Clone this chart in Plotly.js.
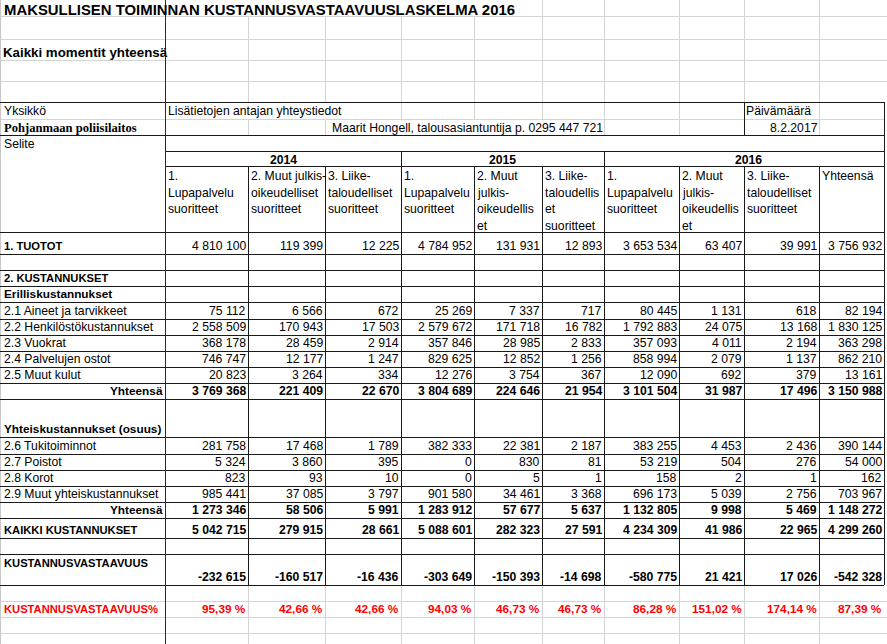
<!DOCTYPE html>
<html><head><meta charset="utf-8">
<script src="https://cdn.plot.ly/plotly-3.0.1.min.js"></script>
<style>html,body{margin:0;padding:0;background:#fff;overflow:hidden}</style>
</head><body><div id="chart" style="width:887px;height:644px"></div>
<script>
// ---------------- DATA ----------------
const title = "MAKSULLISEN TOIMINNAN KUSTANNUSVASTAAVUUSLASKELMA 2016";
const subtitle = "Kaikki momentit yhteensä";
const unitLabel = "Yksikkö";
const unitName = "Pohjanmaan poliisilaitos";
const contactLabel = "Lisätietojen antajan yhteystiedot";
const contactText = "Maarit Hongell, talousasiantuntija p. 0295 447 721";
const dateLabel = "Päivämäärä";
const dateValue = "8.2.2017";
const seliteLabel = "Selite";
const years = ["2014", "2015", "2016"];
const columnHeaders = [
  ["1.", "Lupapalvelu", "suoritteet"],
  ["2. Muut julkis-", "oikeudelliset", "suoritteet"],
  ["3. Liike-", "taloudelliset", "suoritteet"],
  ["1.", "Lupapalvelu", "suoritteet"],
  ["2. Muut", "julkis-", "oikeudellis", "et"],
  ["3. Liike-", "taloudellis", "et", "suoritteet"],
  ["1.", "Lupapalvelu", "suoritteet"],
  ["2. Muut", "julkis-", "oikeudellis", "et"],
  ["3. Liike-", "taloudelliset", "suoritteet"],
  ["Yhteensä"]
];
const tuotot      = [4810100, 119399, 12225, 4784952, 131931, 12893, 3653534, 63407, 39991, 3756932];
const aineet      = [75112, 6566, 672, 25269, 7337, 717, 80445, 1131, 618, 82194];
const henkilosto  = [2558509, 170943, 17503, 2579672, 171718, 16782, 1792883, 24075, 13168, 1830125];
const vuokrat     = [368178, 28459, 2914, 357846, 28985, 2833, 357093, 4011, 2194, 363298];
const palvelut    = [746747, 12177, 1247, 829625, 12852, 1256, 858994, 2079, 1137, 862210];
const muutKulut   = [20823, 3264, 334, 12276, 3754, 367, 12090, 692, 379, 13161];
const erillisYht  = [3769368, 221409, 22670, 3804689, 224646, 21954, 3101504, 31987, 17496, 3150988];
const tukitoim    = [281758, 17468, 1789, 382333, 22381, 2187, 383255, 4453, 2436, 390144];
const poistot     = [5324, 3860, 395, 0, 830, 81, 53219, 504, 276, 54000];
const korot       = [823, 93, 10, 0, 5, 1, 158, 2, 1, 162];
const muutYhteis  = [985441, 37085, 3797, 901580, 34461, 3368, 696173, 5039, 2756, 703967];
const yhteisYht   = [1273346, 58506, 5991, 1283912, 57677, 5637, 1132805, 9998, 5469, 1148272];
const kaikkiKust  = [5042715, 279915, 28661, 5088601, 282323, 27591, 4234309, 41986, 22965, 4299260];
const vastaavuus  = [-232615, -160517, -16436, -303649, -150393, -14698, -580775, 21421, 17026, -542328];
const vastaavuusPct = [95.39, 42.66, 42.66, 94.03, 46.73, 46.73, 86.28, 151.02, 174.14, 87.39];

// ---------------- LAYOUT GEOMETRY ----------------
const W = 887, H = 644;
const C = [0, 165, 248, 325, 401, 474, 542, 604, 679, 744, 819, 884]; // column edges
const SANS = "Liberation Sans, Arial, sans-serif";
const SERIF = "Liberation Serif, Times New Roman, serif";
const fReg = {family: SANS, size: 12.2, color: "#000"};
const fBold = {family: SANS, size: 12.2, color: "#000", weight: "bold"};
const fBoldLbl = {family: SANS, size: 11.8, color: "#000", weight: "bold"};
const fBoldCaps = {family: SANS, size: 11.2, color: "#000", weight: "bold"};
const fRedCaps = {family: SANS, size: 11.2, color: "#ff0000", weight: "bold"};
const fRed = {family: SANS, size: 11.8, color: "#ff0000", weight: "bold"};

function fmtNum(v) {
  const s = Math.abs(v).toString().replace(/\B(?=(\d{3})+(?!\d))/g, " ");
  return (v < 0 ? "-" : "") + s;
}
function fmtPct(v) { return v.toFixed(2).replace(".", ",") + " %"; }

const annotations = [];
function ann(text, x, y, xanchor, font) {
  annotations.push({text: text, x: x, y: y, xref: "x", yref: "y", xanchor: xanchor, yanchor: "middle",
    showarrow: false, font: font, borderpad: 0, borderwidth: 0});
}
const shapes = [];
const GRID = "#d4d4d4", INK = "#1a1a1a";
function hline(y, x0, x1, color) { shapes.push({type: "line", xref: "x", yref: "y", x0: x0, x1: x1, y0: y + 0.5, y1: y + 0.5, line: {color: color, width: 1}}); }
function vline(x, y0, y1, color) { shapes.push({type: "line", xref: "x", yref: "y", x0: x + 0.5, x1: x + 0.5, y0: y0, y1: y1, line: {color: color, width: 1}}); }

// light gridlines (behind)
[16, 39, 60, 81].forEach(y => hline(y, 0, W, GRID));
[248, 325, 401, 474].forEach(x => vline(x, 16, 102, GRID));
[542, 604, 679, 744, 819].forEach(x => vline(x, 0, 102, GRID));
hline(119, 0, 884, GRID);
[401, 474, 542, 604, 679].forEach(x => vline(x, 102, 119, GRID));
[248, 325, 604, 679].forEach(x => vline(x, 119, 135, GRID));
vline(819, 102, 135, GRID);
[601, 617, 633].forEach(y => hline(y, 0, W, GRID));
[248, 325, 401, 474, 542, 604, 679, 744, 819].forEach(x => vline(x, 585, H, GRID));
vline(0, 0, H, "#c8c8c8");

// table borders
[102, 135].forEach(y => hline(y, 0, 884, INK));
[151, 166].forEach(y => hline(y, 165, 884, INK));
const rowLines = [232, 254, 270, 286, 302, 319, 335, 351, 367, 383, 399, 437, 454, 470, 486, 502, 518, 538, 554, 585];
rowLines.forEach(y => hline(y, 0, 884, INK));
vline(884, 102, 585, INK);
vline(744, 102, 135, INK);
[401, 604].forEach(x => vline(x, 151, 585, INK));
[248, 325, 474, 542, 679, 744, 819].forEach(x => vline(x, 166, 585, INK));
vline(165, 0, H, "#2a2a2a"); // freeze pane line

// top texts
ann(title, 4, 9.5, "left", {family: SANS, size: 14.9, color: "#000", weight: "bold"});
ann(subtitle, 3, 52, "left", {family: SANS, size: 13.3, color: "#000", weight: "bold"});
ann(unitLabel, 4, 110.8, "left", fReg);
ann(contactLabel, 168, 110.8, "left", fReg);
ann(dateLabel, 746, 110.8, "left", fReg);
ann(unitName, 4, 127.8, "left", {family: SERIF, size: 12.6, color: "#000", weight: "bold"});
ann(contactText, C[7] - 1.5, 128, "right", fReg);
ann(dateValue, C[10] - 1.5, 128, "right", fReg);
ann(seliteLabel, 4, 144, "left", fReg);

// year headers
const yearSpans = [[C[1], C[4]], [C[4], C[7]], [C[7], 892]];
years.forEach((yr, i) => ann(yr, (yearSpans[i][0] + yearSpans[i][1]) / 2, 159.5, "center", fBold));

// column headers (wrapped, top aligned)
columnHeaders.forEach((lines, j) => {
  lines.forEach((ln, k) => ann(ln, C[j + 1] + 3, 176 + k * 16.5, "left", fReg));
});

// data rows
const tableRows = [
  {bottom: 254, label: "1. TUOTOT", lf: fBoldCaps, vals: tuotot, vf: fReg},
  {bottom: 286, label: "2. KUSTANNUKSET", lf: fBoldCaps},
  {bottom: 302, label: "Erilliskustannukset", lf: fBoldLbl},
  {bottom: 319, label: "2.1 Aineet ja tarvikkeet", lf: fReg, vals: aineet, vf: fReg},
  {bottom: 335, label: "2.2 Henkilöstökustannukset", lf: fReg, vals: henkilosto, vf: fReg},
  {bottom: 351, label: "2.3 Vuokrat", lf: fReg, vals: vuokrat, vf: fReg},
  {bottom: 367, label: "2.4 Palvelujen ostot", lf: fReg, vals: palvelut, vf: fReg},
  {bottom: 383, label: "2.5 Muut kulut", lf: fReg, vals: muutKulut, vf: fReg},
  {bottom: 399, label: "Yhteensä", lf: fBoldLbl, right: true, vals: erillisYht, vf: fBold},
  {bottom: 437, label: "Yhteiskustannukset (osuus)", lf: fBoldLbl},
  {bottom: 454, label: "2.6 Tukitoiminnot", lf: fReg, vals: tukitoim, vf: fReg},
  {bottom: 470, label: "2.7 Poistot", lf: fReg, vals: poistot, vf: fReg},
  {bottom: 486, label: "2.8 Korot", lf: fReg, vals: korot, vf: fReg},
  {bottom: 502, label: "2.9 Muut yhteiskustannukset", lf: fReg, vals: muutYhteis, vf: fReg},
  {bottom: 518, label: "Yhteensä", lf: fBoldLbl, right: true, vals: yhteisYht, vf: fBold},
  {bottom: 538, label: "KAIKKI KUSTANNUKSET", lf: fBoldCaps, vals: kaikkiKust, vf: fBold},
  {bottom: 585, label: "KUSTANNUSVASTAAVUUS", lf: fBoldCaps, labelY: 562.5, vals: vastaavuus, vf: fBold},
  {bottom: 617, label: "KUSTANNUSVASTAAVUUS%", lf: fRedCaps, vals: vastaavuusPct, vf: fRed, pct: true}
];
tableRows.forEach(r => {
  const y = r.bottom - 7.6;
  if (r.right) ann(r.label, C[1] - 2, y, "right", r.lf);
  else ann(r.label, 4, r.labelY !== undefined ? r.labelY : y, "left", r.lf);
  if (r.vals) r.vals.forEach((v, j) => ann(r.pct ? fmtPct(v) : fmtNum(v), C[j + 2] - 2, y, "right", r.vf));
});

const layout = {
  width: W, height: H,
  margin: {l: 0, r: 0, t: 0, b: 0, pad: 0},
  paper_bgcolor: "#ffffff", plot_bgcolor: "#ffffff",
  showlegend: false,
  xaxis: {range: [0, W], visible: false, fixedrange: true},
  yaxis: {range: [H, 0], visible: false, fixedrange: true},
  shapes: shapes,
  annotations: annotations
};
Plotly.newPlot("chart", [{x: [], y: [], type: "scatter", mode: "markers", hoverinfo: "skip"}], layout, {staticPlot: true, displayModeBar: false});
</script></body></html>
